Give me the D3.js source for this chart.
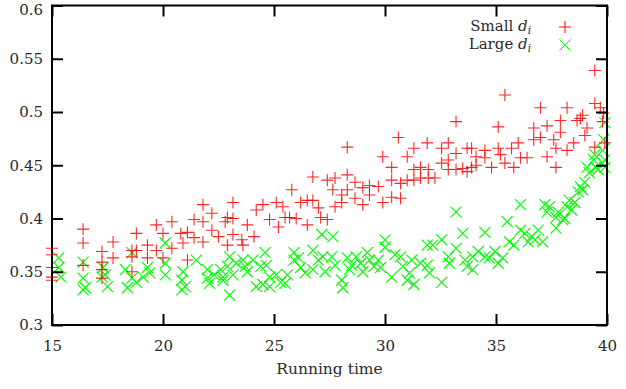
<!DOCTYPE html>
<html>
<head>
<meta charset="utf-8">
<script src="https://cdn.jsdelivr.net/npm/d3@7"></script>
<style>
  body { margin: 0; background: #fff; }
  svg text { font-family: "DejaVu Serif", "Liberation Serif", serif; fill: #2a2a2a; }
</style>
</head>
<body>
<svg id="chart" width="626" height="389"></svg>
<script>
// ---- data ----
const smallX = [15,15,15,15,15,16.4,16.4,16.4,17.25,17.25,17.25,17.25,17.75,17.75,18.6,18.6,18.6,18.8,18.8,19.3,19.3,19.7,19.7,20,20,20.4,20.4,20.8,20.9,21.1,21.1,
  21.8,22.2,21.4,21.8,22.2,21.4,21.8,22.5,22.9,23.15,22.8,23.15,23.15,23.55,23.8,24.1,23.6,22.9,24.2,24.5,24.8,25.1,25.2,25.4,25.5,25.8,25.7,26,26.2,26.5,26.75,26.75,27,27.1,27.4,27.4,26.5,
  27.75,27.65,27.75,28.05,28.05,28.3,28.3,28.3,28.65,28.65,29,29,29.3,29.3,29.7,29.9,29.9,30.3,30.3,30.3,30.6,30.7,30.7,31,31,31.3,31.3,31.3,31.6,31.6,31.9,31.95,31.95,32.25,32.55,32.55,32.85,32.85,32.85,33.2,33.2,33.2,33.5,33.7,33.7,
  33.9,33.9,34.1,34.1,34.5,34.5,34.8,35.1,35.1,35.2,35.4,35.4,35.7,35.8,36,36.1,36.4,36.7,36.7,37,37,37.3,37.3,37.6,37.7,37.7,37.9,37.9,38.2,38.2,38.5,38.65,38.8,38.9,39,39.1,39.45,39.45,39.45,39.7,39.8,39.9,39.85];
const smallY = [0.372,0.366,0.354,0.345,0.342,0.39,0.377,0.356,0.369,0.359,0.352,0.344,0.378,0.363,0.37,0.364,0.35,0.386,0.37,0.375,0.363,0.394,0.37,0.386,0.363,0.397,0.372,0.386,0.377,0.387,0.361,
  0.413,0.405,0.399,0.397,0.389,0.382,0.378,0.383,0.401,0.415,0.397,0.4,0.385,0.38,0.394,0.383,0.375,0.375,0.408,0.413,0.399,0.415,0.392,0.411,0.401,0.427,0.401,0.4,0.415,0.417,0.439,0.417,0.41,0.401,0.436,0.399,0.394,
  0.438,0.427,0.411,0.422,0.415,0.467,0.441,0.427,0.434,0.419,0.429,0.413,0.431,0.422,0.43,0.458,0.415,0.448,0.436,0.42,0.476,0.419,0.433,0.458,0.436,0.466,0.446,0.436,0.448,0.438,0.471,0.446,0.438,0.438,0.466,0.452,0.471,0.455,0.446,0.491,0.461,0.446,0.447,0.466,0.444,
  0.466,0.448,0.458,0.45,0.464,0.457,0.448,0.486,0.466,0.46,0.516,0.452,0.466,0.448,0.471,0.457,0.457,0.485,0.474,0.504,0.476,0.487,0.458,0.474,0.448,0.466,0.492,0.481,0.504,0.464,0.471,0.492,0.494,0.497,0.478,0.485,0.539,0.508,0.467,0.504,0.491,0.471,0.499];

const largeX = [15.3,15.3,15.4,16.4,16.4,16.5,16.4,17.3,17.4,17.5,17.25,18.3,18.4,18.6,18.6,18.8,19.1,19.3,19.4,20.1,20.1,20.1,20.9,20.85,21,20.85,
  21.5,22,22,22.3,22.6,22.7,23,22.9,23.15,23,23.6,23.7,23.8,24.05,24.4,24.6,24.5,24.2,24.8,25.1,25.3,25.5,25.6,25.9,25.9,26.1,26.2,26.4,26.75,26.75,27,27.15,27.2,27.3,22.7,22.1,23.3,24.8,24.65,
  27.65,27.6,27.75,28.05,28.1,28.3,28.5,28.7,28.9,29,29.3,29.5,29.7,30,30,29.8,30.3,30.45,30.7,30.8,31,31.3,31.2,31.6,31.9,31.9,32,32.15,32.55,32.55,32.85,32.9,33.2,33.2,33.5,33.6,33.7,28.4,29.2,31.1,
  33.95,33.95,34.2,34.5,34.5,34.7,34.95,35.1,35.3,35.5,35.6,35.8,36.1,36.1,36.3,36.45,36.6,36.75,36.9,37.1,37.2,37.3,37.4,37.7,37.7,37.8,38,38.1,38.2,38.3,38.4,38.55,38.7,38.8,38.9,39,39.1,39.2,39.4,39.45,39.5,39.6,39.8,39.85,39.9,39.9,39.9,39.8];
const largeY = [0.363,0.354,0.345,0.359,0.344,0.335,0.333,0.354,0.347,0.336,0.345,0.352,0.335,0.368,0.344,0.34,0.345,0.354,0.349,0.377,0.358,0.347,0.35,0.342,0.336,0.333,
  0.361,0.352,0.344,0.347,0.352,0.345,0.364,0.355,0.347,0.328,0.361,0.355,0.35,0.361,0.355,0.368,0.338,0.336,0.345,0.347,0.34,0.339,0.347,0.368,0.361,0.363,0.354,0.349,0.37,0.352,0.361,0.385,0.364,0.35,0.342,0.339,0.358,0.336,0.356,
  0.383,0.364,0.356,0.342,0.335,0.363,0.356,0.364,0.358,0.35,0.361,0.355,0.361,0.38,0.373,0.354,0.345,0.366,0.364,0.355,0.342,0.338,0.361,0.358,0.356,0.375,0.349,0.375,0.34,0.38,0.364,0.358,0.372,0.406,0.386,0.361,0.355,0.352,0.368,0.349,
  0.364,0.352,0.369,0.387,0.364,0.363,0.369,0.358,0.363,0.397,0.378,0.375,0.413,0.389,0.386,0.378,0.383,0.38,0.389,0.378,0.413,0.406,0.411,0.401,0.391,0.406,0.399,0.4,0.411,0.417,0.408,0.415,0.425,0.43,0.427,0.434,0.448,0.443,0.455,0.46,0.448,0.446,0.464,0.474,0.49,0.455,0.448,0.452];

const xTicks = [15, 20, 25, 30, 35, 40];
const yTicks = [0.3, 0.35, 0.4, 0.45, 0.5, 0.55, 0.6];
const yTickLabels = ["0.3", "0.35", "0.4", "0.45", "0.5", "0.55", "0.6"];

// ---- layout ----
const svg = d3.select("#chart");
const mLeft = 52, mRight = 607, mTop = 5.5, mBottom = 325;

const x = d3.scaleLinear().domain([15, 40]).range([mLeft, mRight]);
const y = d3.scaleLinear().domain([0.3, 0.6]).range([mBottom, mTop]);

const plusPath = "M-6,0H6M0,-6V6";
const crossPath = "M-5.5,-5.5L5.5,5.5M-5.5,5.5L5.5,-5.5";

// points
const gLarge = svg.append("g");
largeX.forEach(function (v, i) {
    gLarge.append("path")
        .attr("d", crossPath)
        .attr("transform", "translate(" + x(v) + "," + y(largeY[i]) + ")")
        .attr("stroke", "#00ff00")
        .attr("stroke-width", 1.15)
        .attr("fill", "none");
});

const gSmall = svg.append("g");
smallX.forEach(function (v, i) {
    gSmall.append("path")
        .attr("d", plusPath)
        .attr("transform", "translate(" + x(v) + "," + y(smallY[i]) + ")")
        .attr("stroke", "#ff0000")
        .attr("stroke-width", 1.1)
        .attr("stroke-opacity", 0.85)
        .attr("fill", "none");
});

// axes (ticks inward on all sides)
svg.append("g")
    .attr("transform", "translate(0," + mBottom + ")")
    .call(d3.axisBottom(x).tickValues(xTicks).tickSize(-11).tickPadding(15).tickFormat(d3.format("d")));
svg.append("g")
    .attr("transform", "translate(0," + mTop + ")")
    .call(d3.axisTop(x).tickValues(xTicks).tickSize(-11).tickFormat(""));
const yAxisG = svg.append("g")
    .attr("transform", "translate(" + mLeft + ",0)")
    .call(d3.axisLeft(y).tickValues(yTicks).tickSize(-11).tickPadding(9)
        .tickFormat(function (d, i) { return yTickLabels[i]; }));
svg.append("g")
    .attr("transform", "translate(" + mRight + ",0)")
    .call(d3.axisRight(y).tickValues(yTicks).tickSize(-11).tickFormat(""));

svg.selectAll(".domain").remove();
svg.selectAll(".tick line").attr("stroke", "#000").attr("stroke-width", 2);
svg.selectAll(".tick text").attr("font-size", 15).attr("fill", "#2a2a2a");
// top label sits on the edge; nudge it so it stays inside the page
yAxisG.selectAll(".tick text").filter(function (d) { return d === 0.6; }).attr("dy", "0.6em");

svg.append("rect")
    .attr("x", mLeft).attr("y", mTop)
    .attr("width", mRight - mLeft).attr("height", mBottom - mTop)
    .attr("fill", "none").attr("stroke", "#000").attr("stroke-width", 2);

// axis title
svg.append("text")
    .attr("x", (mLeft + mRight) / 2).attr("y", 374)
    .attr("text-anchor", "middle").attr("font-size", 15.5)
    .text("Running time");

// legend
const legend = [["Small ", plusPath, "#ff0000"], ["Large ", crossPath, "#00ff00"]];
legend.forEach(function (l, i) {
    var ly = 27 + i * 18;
    var t = svg.append("text")
        .attr("x", 531).attr("y", ly + 4)
        .attr("text-anchor", "end").attr("font-size", 15);
    t.append("tspan").text(l[0]);
    t.append("tspan").attr("font-style", "italic").text("d");
    t.append("tspan").attr("font-style", "italic").attr("font-size", 10.5).attr("dy", 3).text("i");
    svg.append("path")
        .attr("d", l[1])
        .attr("transform", "translate(565," + ly + ")")
        .attr("stroke", l[2]).attr("stroke-width", 1).attr("fill", "none");
});
</script>
</body>
</html>
